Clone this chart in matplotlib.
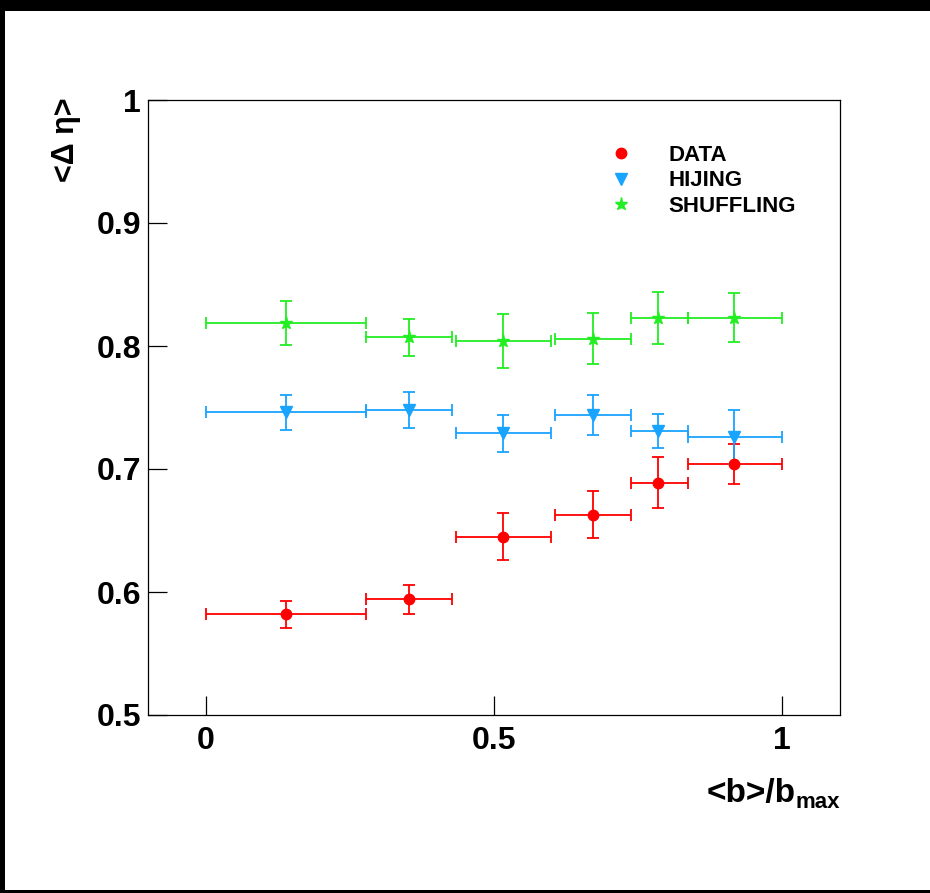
#!/usr/bin/env python3

# <delta eta> vs centrality, data vs hijing vs shuffling

import matplotlib
matplotlib.use("Agg")
import matplotlib.pyplot as plt
from matplotlib.lines import Line2D
from matplotlib.patches import Rectangle

# centrality bins (<b>/b_max)
bin_lo = [0.0, 0.278, 0.434, 0.606, 0.737, 0.836]
bin_hi = [0.278, 0.427, 0.598, 0.737, 0.836, 1.0]
b_mean = [0.139, 0.352, 0.516, 0.672, 0.785, 0.917]

data_y = [0.582, 0.594, 0.645, 0.663, 0.689, 0.704]
data_err = [0.011, 0.012, 0.019, 0.019, 0.021, 0.016]

hijing_y = [0.746, 0.748, 0.729, 0.744, 0.731, 0.726]
hijing_err = [0.014, 0.015, 0.015, 0.016, 0.014, 0.022]

shuf_y = [0.8185, 0.807, 0.804, 0.806, 0.823, 0.823]
shuf_err = [0.018, 0.015, 0.022, 0.021, 0.021, 0.020]

RED = "#ff0000"
BLUE = "#19a4ff"
GREEN = "#22ee22"

FONT = "Liberation Sans"

xerr = [[m - lo for m, lo in zip(b_mean, bin_lo)],
        [hi - m for m, hi in zip(b_mean, bin_hi)]]

W, H = 930, 893
fig = plt.figure(figsize=(W / 100, H / 100), dpi=100, facecolor="black")
fig.patches.append(Rectangle((5 / W, 3 / H), 1 - 5 / W, (H - 14) / H,
                             transform=fig.transFigure, facecolor="white",
                             edgecolor="none", zorder=-5))

ax = fig.add_axes([148 / W, (H - 715) / H, (840 - 148) / W, (715 - 100) / H])

series = [
    (data_y, data_err, RED, "o", 7.5, "DATA"),
    (hijing_y, hijing_err, BLUE, "v", 8.5, "HIJING"),
    (shuf_y, shuf_err, GREEN, "*", 9.5, "SHUFFLING"),
]
for y, e, c, m, ms, lab in series:
    ax.errorbar(b_mean, y, yerr=e, xerr=xerr, fmt=m, color=c, ms=ms,
                mec=c, elinewidth=1.3, capsize=4, capthick=1.3)

ax.set_xlim(-0.1, 1.1)
ax.set_ylim(0.5, 1.0)
ax.set_xticks([0, 0.5, 1])
ax.set_xticklabels(["0", "0.5", "1"])
ax.set_yticks([0.5, 0.6, 0.7, 0.8, 0.9, 1.0])
ax.set_yticklabels(["0.5", "0.6", "0.7", "0.8", "0.9", "1"])
ax.tick_params(direction="in", length=14, width=0.9, top=False, right=False)
ax.tick_params(axis="x", pad=8)
ax.tick_params(axis="y", pad=5)
for lbl in ax.get_xticklabels() + ax.get_yticklabels():
    lbl.set_fontfamily(FONT)
    lbl.set_fontweight("bold")
    lbl.set_fontsize(23)
for sp in ax.spines.values():
    sp.set_linewidth(0.9)

handles = [Line2D([], [], ls="none", marker=m, color=c, ms=ms)
           for _, _, c, m, ms, _ in series]
labels = [s[5] for s in series]
leg = ax.legend(handles, labels, loc="upper left",
                bbox_to_anchor=((601 - 148) / (840 - 148), 1 - (136 - 100) / 615),
                frameon=False, handlelength=1.0, handletextpad=1.65,
                labelspacing=0.2, borderaxespad=0,
                prop={"family": FONT, "weight": "bold", "size": 16})

fig.text(66 / W, 1 - 97 / H, "<Δ η>", rotation=90, ha="center", va="top",
         fontsize=22, fontweight="bold", family=FONT)
fig.text(796 / W, 1 - 802 / H, "<b>/b", ha="right", va="baseline",
         fontsize=24, fontweight="bold", family=FONT)
fig.text(795 / W, 1 - 808 / H, "max", ha="left", va="baseline",
         fontsize=16, fontweight="bold", family=FONT)

fig.savefig("out.png", dpi=100, facecolor=fig.get_facecolor())
